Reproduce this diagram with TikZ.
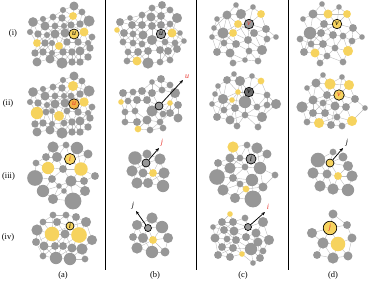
\documentclass[tikz,border=0pt]{standalone}
\usepackage{fontspec}
\setmainfont{Liberation Serif}
\usetikzlibrary{arrows.meta}
\definecolor{ng}{HTML}{979797}
\definecolor{ny}{HTML}{F6D35E}
\definecolor{ne}{HTML}{BDBDBD}
\definecolor{nr}{HTML}{E8322B}
\definecolor{no}{HTML}{F2B447}
\definecolor{nd}{HTML}{6A6A6A}
\tikzset{
  fg/.style={fill=ng}, fy/.style={fill=ny}, fo/.style={fill=no}, fd/.style={fill=nd},
  edge/.style={draw=ne, line width=0.4pt},
  sepline/.style={draw=black, line width=0.8pt},
  arr/.style={-{Stealth[length=3.6pt,width=3pt]}, line width=0.75pt},
  lab/.style={circle, draw=black, line width=0.65pt, inner sep=0pt, font=\fontsize{8}{8}\selectfont\itshape},
  tip/.style={inner sep=0pt, font=\fontsize{8}{8}\selectfont\itshape},
  rowlab/.style={inner sep=0pt, font=\fontsize{8.5}{9}\selectfont},
}
\newcommand\drawcluster[2]{%
  \foreach \xa/\ya/\ra/\ca [count=\ia] in {#2} {
    \foreach \xb/\yb/\rb/\cb [count=\ib] in {#2} {
      \ifnum\ib>\ia\relax
        \pgfmathtruncatemacro\ok{veclen(\xb-\xa,\yb-\ya)<(\ra+\rb+#1)}
        \ifnum\ok=1\relax \draw[edge] (\xa,\ya) -- (\xb,\yb);\fi
      \fi
    }
  }
  \foreach \xa/\ya/\ra/\ca in {#2} {\fill[\ca] (\xa,\ya) circle[radius=1.12*\ra pt];}
}
\begin{document}
\begin{tikzpicture}[x=1pt,y=-1pt]
\useasboundingbox (0,0) rectangle (374,282);
% separators
\draw[sepline] (105.7,0) -- (105.7,270);
\draw[sepline] (196.7,0) -- (196.7,270);
\draw[sepline] (288.7,0) -- (288.7,270);
% row and column labels
\node[rowlab] (r1) at (13,33) {(i)};
\node[rowlab] (r2) at (8,103) {(ii)};
\node[rowlab] (r3) at (8.5,176) {(iii)};
\node[rowlab] (r4) at (8,237) {(iv)};
\node[rowlab] (ca) at (63,275) {(a)};
\node[rowlab] (cb) at (155,275) {(b)};
\node[rowlab] (cc) at (243,275) {(c)};
\node[rowlab] (cdd) at (333,275) {(d)};

% ---------- (i)(a)
\drawcluster{8}{74/6/4/fg, 63/10/2.7/fg, 43/19/2.7/fg, 53/17/3/fg, 62/18/3.3/fg, 73/16/3.5/fy, 82/12/3/fg, 89/21/5/fg,
33/22/4.3/fg, 45/26/4/fg, 55/26/3/fg, 64/26/2.7/fg, 71/25/3.2/fg, 80/24/3.3/fg,
30/32/2.7/fg, 38/34/3.3/fg, 47/35/2.7/fg, 55/34/4/fg, 65/33/4/fg, 74/34/4.3/fy, 84/32/4/fy, 92/37/3/fg,
37/43/3.5/fy, 45/43/3.3/fg, 52/43/2.7/fg, 59/46/3.5/fy, 67/42/3.3/fg, 78/42/3.3/fg, 88/43/2.7/fg,
35/53/3.3/fg, 43/52/3.3/fg, 52/53/2.7/fg, 63/52/3.3/fg, 72/52/3.3/fg, 80/51/4/fg, 90/48/3.3/fg,
37/62/4/fg, 50/59/4/fg, 62/63/5/fg, 72/62/3.3/fg, 80/62/3.3/fg, 88/57/3.3/fg}
\node[lab, fill=ny, minimum size=10pt] (ua) at (74,34) {u};

% ---------- (ii)(a)
\begin{scope}[yshift=-70pt]
\drawcluster{8}{74/6/4/fg, 63/10/2.7/fg, 43/19/2.7/fg, 53/17/3/fg, 62/18/3.3/fg, 73/16/4.5/fy, 82/11/3/fg, 89/21/5/fg,
33/22/4.3/fg, 45/26/4/fg, 55/26/3/fg, 64/26/2.7/fg, 71/26/3/fg, 80/24/3.3/fg,
30/32/2.7/fg, 38/33/3.3/fg, 47/35/2.7/fg, 55/34/4/fg, 65/33/4/fg, 74/34/4.5/fo, 84/32/4.2/fy, 92/37/3/fg,
37/43/5.5/fy, 46/42/3/fg, 52/41/2.5/fg, 59/46/4.5/fy, 67/41/3/fg, 78/42/3.3/fg, 88/43/2.7/fg,
35/54/3.3/fg, 43/53/3.3/fg, 52/54/2.7/fg, 64/53/3/fg, 72/52/3.3/fg, 80/51/4/fg, 90/48/3.3/fg,
37/62/4/fg, 50/60/4/fg, 62/63/5/fg, 72/62/3.3/fg, 80/62/3.3/fg, 88/57/3.3/fg}
\node[lab, fill=no, minimum size=10.5pt, text=nr] (ub) at (74,34) {u};
\end{scope}

% ---------- (i)(b)
\drawcluster{8}{162/5/3.5/fg, 152/8/3/fg, 170/10/3/fg, 142/15/3/fg, 130/18/2.5/fg, 151/17/4/fg, 161/16/3.5/fg, 177/18/4.5/fg,
120/22/3.5/fg, 132/25/3.5/fg, 142/25/3.5/fg, 152/26/3.5/fg, 161/25/3.5/fg, 170/24/3/fg,
117/30/2.5/fy, 124/33/3.5/fg, 133/34/3/fg, 143/35/4/fg, 161/34/4/fg, 172/33/4/fy, 180/33/2.5/fg,
123/42/3/fg, 133/43/3/fg, 142/44/3/fg, 152/40/4.5/fg, 165/42/3/fg, 175/43/3/fg, 184/41/2.5/fg,
128/52/3/fg, 138/52/3.5/fg, 148/51/3.5/fg, 160/50/3.5/fg, 168/51/3.5/fg, 177/49/3.5/fg,
127/61/3/fg, 137/61/4/fy, 148/63/5/fg, 160/62/3/fg, 170/60/3/fg}
\node[lab, fill=ng, minimum size=9.5pt] (uc) at (161,34) {u};

% ---------- (ii)(b)
\drawcluster{8}{152/82/2.5/fg, 161/79/3.5/fg, 170/85/3/fg,
123/93/3.5/fg, 133/92/3/fg, 142/91/3.5/fg, 152/93/3.5/fg, 162/90/3/fg, 175/93/4.5/fg,
121/102/2.5/fy, 128/101/3/fg, 137/100/3.5/fg, 147/100/3.5/fg, 170/103/2.5/fy, 178/105/3.5/fg, 159/106/3.5/fg,
125/112/3/fg, 135/111/3/fg, 152/111/5/fg, 163/114/3/fg, 170/113/3.5/fg, 178/118/4/fg,
125/122/3/fg, 137/122/3.5/fg, 147/120/4/fg, 160/122/3/fg, 138/129/3/fy, 150/130/3/fg, 163/128/3/fg}
\node[lab, fill=ng, minimum size=8pt] (nb2) at (159,106) {};
\coordinate (tb2) at (183,80);
\draw[arr] (nb2) -- (tb2);
\node[tip, text=nr] (lb2) at (187,77) {u};

% ---------- (i)(c)
\drawcluster{12}{236/5/2.5/fg, 253/7/2.5/fg, 227/15/4/fg, 241/14/4.5/fg, 261/14/3.5/fy, 217/19/2.5/fg, 238/24/3.5/fy, 249/24/4/fg,
214/28/2.5/fg, 223/33/5/fg, 233/33/3.5/fy, 254/33/3.5/fg, 266/29/3.5/fg, 212/37/2.5/fg, 224/43/3/fg, 236/44/3.5/fg,
248/40/3.5/fg, 267/39/3/fg, 276/37/2.5/fg, 217/52/3.5/fg, 230/53/4/fg, 249/51/3/fg, 262/50/4.5/fg, 233/63/3/fg, 258/61/3/fg, 245/60/2.5/fg}
\node[lab, fill=ng, minimum size=9.5pt, text=nr] (vc1) at (249,24) {v};

% ---------- (ii)(c)
\drawcluster{12}{234/74/2.5/fg, 252/76/2.5/fg, 227/80/3.5/fg, 240/81/4.5/fg, 261/81/3/fy, 218/86/2.5/fg, 238/92/2.5/fy, 249/92/4/fd,
215/94/2.5/fg, 223/99/4.5/fg, 232/100/2.5/fy, 267/95/3/fg, 245/102/5.5/fg, 212/104/2.5/fg, 224/110/3/fg, 235/108/3.5/fg,
257/107/3/fg, 267/105/3/fg, 276/104/4.5/fg, 217/117/3.5/fg, 230/120/4/fg, 245/115/3/fg, 262/117/4.5/fg, 237/126/3/fg, 258/127/3/fg}
\node[lab, fill=nd, minimum size=9.5pt] (vc2) at (249,92) {v};

% ---------- (i)(d)
\drawcluster{12}{322/4/2.5/fg, 339/7/2.5/fg, 313/14/4/fg, 328/14/4/fy, 347/14/3.5/fy, 303/19/2.5/fg, 324/24/3.5/fg, 337/24/4/fy,
353/28/3.5/fg, 310/33/5.5/fg, 300/39/3/fg, 321/33/3.5/fg, 333/35/3.5/fg, 343/36/3/fg, 362/37/2.5/fg, 311/44/3/fg,
323/44/3.5/fg, 352/41/3/fg, 335/48/3/fg, 304/52/3.5/fg, 315/53/4/fy, 327/56/3/fg, 348/51/4.5/fy, 320/63/3/fg, 343/62/3/fg}
\node[lab, fill=ny, minimum size=9.5pt] (vd1) at (337,24) {v};

% ---------- (ii)(d)
\drawcluster{12}{323/75/2.5/fg, 342/77/2.5/fg, 316/83/4/fg, 330/84/5/fy, 349/85/4.5/fy, 307/88/2.5/fg, 327/95/3.5/fg, 339/95/4.5/fy,
355/99/3.5/fg, 302/107/5/fg, 313/100/4/fg, 323/103/3/fg, 335/106/4/fg, 346/107/3.5/fg, 365/108/2.5/fg,
313/113/3.5/fg, 325/113/3.5/fg, 337/117/3/fg, 307/122/3/fg, 319/123/4.5/fy, 331/125/3.5/fg, 352/121/4.5/fy, 342/126/3/fg}
\node[lab, fill=ny, minimum size=10.5pt, text=nr] (vd2) at (339,95) {v};

% ---------- (iii)(a)
\drawcluster{10}{53/147/5/fg, 66/145/3/fg, 77/148/5.5/fg, 46/157/3.5/fg, 57/157/4.5/fg, 70/159/4.8/fy, 88/154/4/fg, 36/163/3/fg,
48/168/5.5/fy, 63/169/3.5/fg, 81/169/6/fy, 95/176/3.5/fg, 35/178/7/fg, 52/179/3.5/fg, 59/186/2.5/fg, 71/181/5/fg,
84/181/3.5/fg, 43/191/5.5/fg, 64/191/2.5/fg, 85/191/4.5/fg, 53/199/4.5/fg, 73/201/7.5/fg}
\node[lab, fill=ny, minimum size=11pt, text=nr] (ia3) at (70,159) {i};

% ---------- (iv)(a)
\drawcluster{10}{53/215/3/fg, 66/215/3/fg, 76/217/3.5/fg, 43/222/3/fg, 57/222/3.5/fg, 70/226/3.5/fy, 86/222/4.5/fg,
37/230/5/fg, 52/234/6.5/fy, 65/234/4/fg, 79/235/7/fy, 92/240/4.5/fg, 36/242/3.5/fg, 44/246/4/fg, 55/246/3.5/fg,
63/246/3.5/fg, 72/248/4/fg, 82/249/5/fg, 43/256/3/fg, 56/258/5.5/fg, 70/259/5.5/fg, 85/259/3/fg}
\node[lab, fill=ny, minimum size=8pt] (ia4) at (70,226) {i};

% ---------- (iii)(b)
\drawcluster{10}{135/158/6/fg, 147/154/4/fg, 160/159/5/fg, 146/163/3.5/fg, 132/171/5/fg, 143/173/4/fg, 153/173/3.5/fy,
164/173/5/fg, 137/183/5/fg, 148/183/4.5/fg, 163/186/5.5/fg}
\node[lab, fill=ng, minimum size=8pt] (nb3) at (146,163) {};
\coordinate (tb3) at (159,148);
\draw[arr] (nb3) -- (tb3);
\node[tip, text=nr] (lb3) at (162,143) {j};

% ---------- (iv)(b)
\drawcluster{10}{152/218/5/fg, 137/225/4.5/fg, 162/227/5.5/fg, 148/228/3/fg, 133/237/3.5/fg, 143/238/4.5/fg, 153/240/3.5/fy,
168/238/4.5/fg, 137/248/5/fg, 152/252/5.5/fg, 165/252/4/fg}
\node[lab, fill=ng, minimum size=7pt] (nb4) at (148,228) {};
\coordinate (tb4) at (136,211);
\draw[arr] (nb4) -- (tb4);
\node[tip] (lb4) at (133,206) {j};

% ---------- (iii)(c)
\drawcluster{11}{233/147/5/fy, 247/145/3/fg, 257/148/5/fg, 230/158/4/fg, 240/158/3/fg, 251/159/4.5/fg, 267/154/4/fg, 218/163/3.5/fg,
230/168/5/fg, 245/167/3/fg, 260/168/5.5/fg, 275/175/3/fg, 217/177/7/fg, 233/178/3.5/fg, 240/184/3/fg, 252/180/5.5/fg,
263/187/4/fg, 223/190/5/fg, 246/189/3/fy, 235/198/4.5/fg, 253/199/7.5/fg}
\node[lab, fill=ng, minimum size=10pt] (ic3) at (251,159) {i};

% ---------- (iv)(c)
\drawcluster{10}{230/214/2.5/fy, 222/222/3.5/fg, 233/222/3.5/fg, 245/218/3/fg, 248/227/3/fg, 263/222/4.5/fg, 213/227/2.5/fg,
224/230/3.5/fg, 234/231/4/fg, 256/233/4/fg, 215/238/4/fg, 227/239/3/fg, 236/240/3.5/fg, 246/237/3.5/fg, 258/242/4/fg,
269/240/4.5/fg, 222/247/3.5/fg, 233/248/3.5/fg, 251/249/5.5/fg, 263/251/3/fg, 218/255/3.5/fg, 230/257/3.5/fg,
242/254/2.5/fy, 260/258/3.5/fg, 253/263/2.5/fg}
\node[lab, fill=ng, minimum size=7pt] (nc4) at (248,227) {};
\coordinate (tc4) at (265,212);
\draw[arr] (nc4) -- (tc4);
\node[tip, text=nr] (lc4) at (268,207) {i};

% ---------- (iii)(d)
\drawcluster{11}{333/152/3/fg, 318/160/6.5/fg, 343/157/4/fg, 330/163/3.5/fy, 348/166/4.5/fg, 313/173/5/fg, 327/174/4/fg,
338/176/3.5/fy, 352/176/5/fg, 320/186/5/fg, 333/189/5/fg, 348/190/5.5/fg}
\node[lab, fill=ny, minimum size=8pt] (nd3) at (330,163) {};
\coordinate (td3) at (343,148);
\draw[arr] (nd3) -- (td3);
\node[tip] (ld3) at (347,143) {j};

% ---------- (iv)(d)
\drawcluster{11}{333/214/4/fg, 330/228/6/fy, 347/225/3.5/fg, 312/233/4.5/fg, 323/243/5/fg, 338/244/6.5/fy, 352/238/4/fg,
317/255/3.5/fg, 333/258/5/fg, 348/256/4/fg}
\node[lab, fill=ny, minimum size=13.5pt, text=nr] (jd4) at (330,228) {j};
\end{tikzpicture}
\end{document}
